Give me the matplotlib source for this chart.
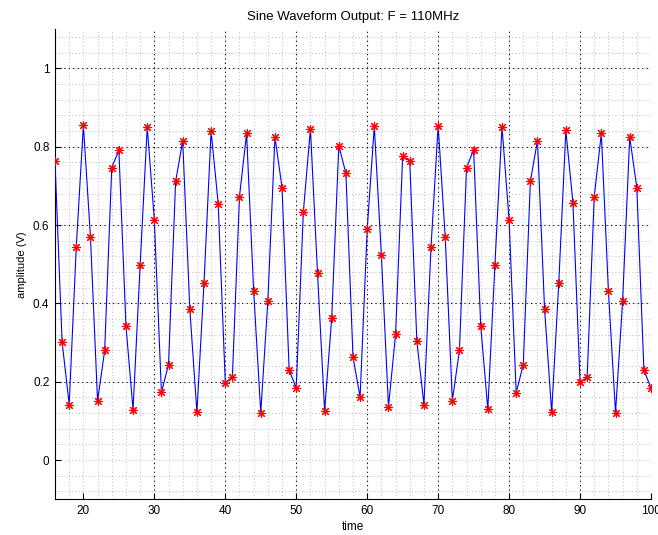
import matplotlib
matplotlib.use('Agg')
import matplotlib.pyplot as plt
import numpy as np

plt.rcParams['font.family'] = ['Liberation Sans', 'DejaVu Sans']

# samples
time = list(range(16, 101))
amplitude = [
    0.763, 0.302, 0.142, 0.545, 0.855, 0.569, 0.151, 0.280, 0.747, 0.791,  # 16-25
    0.343, 0.129, 0.498, 0.851, 0.613, 0.173, 0.244, 0.712, 0.815, 0.386,  # 26-35
    0.122, 0.452, 0.840, 0.655, 0.198, 0.212, 0.673, 0.834, 0.431, 0.121,  # 36-45
    0.407, 0.825, 0.696, 0.230, 0.184, 0.633, 0.846, 0.477, 0.126, 0.362,  # 46-55
    0.803, 0.732, 0.263, 0.161, 0.589, 0.853, 0.523, 0.136, 0.321, 0.777,  # 56-65
    0.763, 0.303, 0.142, 0.545, 0.854, 0.569, 0.152, 0.280, 0.747, 0.792,  # 66-75
    0.343, 0.130, 0.499, 0.851, 0.613, 0.172, 0.244, 0.712, 0.816, 0.386,  # 76-85
    0.122, 0.452, 0.842, 0.656, 0.199, 0.211, 0.673, 0.834, 0.431, 0.121,  # 86-95
    0.406, 0.825, 0.696, 0.230, 0.184,                                     # 96-100
]
x_ticks = [20, 30, 40, 50, 60, 70, 80, 90, 100]
y_ticks = [0, 0.2, 0.4, 0.6, 0.8, 1.0]
y_ticklabels = ['0', '0.2', '0.4', '0.6', '0.8', '1']

fig = plt.figure(figsize=(6.58, 5.35), dpi=100)
ax = fig.add_axes([55 / 658, 1 - 499.3 / 535, 596 / 658, 470 / 535])

# minor grid (light gray dots)
for xv in np.arange(18, 101, 2):
    ax.axvline(xv, color='#a8a8a8', lw=0.6, ls=(0, (1, 3)), zorder=0)
for yv in np.arange(-0.08, 1.1, 0.04):
    ax.axhline(yv, color='#a8a8a8', lw=0.6, ls=(0, (1, 3)), zorder=0)
# major grid (black dots), the first tick on each axis has none in the reference
for xv in x_ticks[1:]:
    ax.axvline(xv, color='black', lw=0.8, ls=(0, (1, 3)), zorder=1)
for yv in y_ticks[1:]:
    ax.axhline(yv, color='black', lw=0.8, ls=(0, (1, 3)), zorder=1)

ax.plot(time, amplitude, color='blue', lw=0.8, zorder=3)
ax.plot(time, amplitude, ls='none', marker=(8, 2, 0), ms=6.5, mew=0.8,
        color='red', zorder=4)

ax.set_xlim(16, 100)
ax.set_ylim(-0.1, 1.1)
ax.set_xticks(x_ticks)
ax.set_yticks(y_ticks)
ax.set_yticklabels(y_ticklabels)
ax.tick_params(direction='in', length=4, width=0.8, labelsize=8.5, pad=4)
ax.spines['top'].set_visible(False)
ax.spines['right'].set_visible(False)

ax.set_title('Sine Waveform Output: F = 110MHz', fontsize=9.5, pad=7)
ax.set_xlabel('time', fontsize=8.5, labelpad=3)
ax.set_ylabel('amplitude (V)', fontsize=8, labelpad=4)

fig.savefig('out.png', dpi=100)
